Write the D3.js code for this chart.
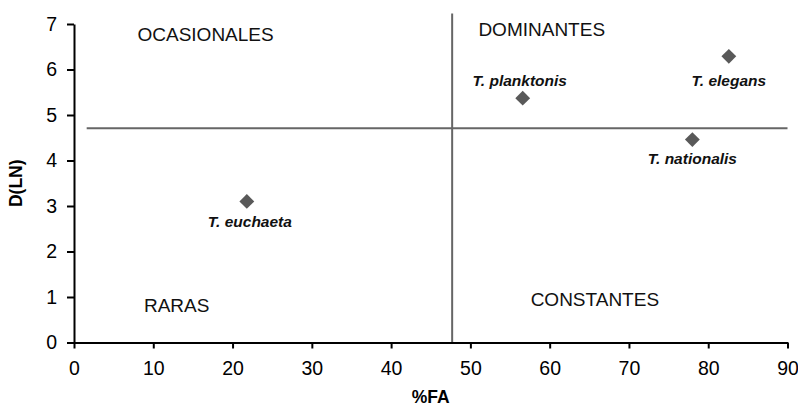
<!DOCTYPE html>
<html>
<head>
<meta charset="utf-8">
<script src="https://cdn.jsdelivr.net/npm/d3@7"></script>
<style>
  body { margin: 0; background: #fff; }
  svg text { font-family: "Liberation Sans", Arial, Helvetica, sans-serif; }
</style>
</head>
<body>
<svg id="chart" width="798" height="408"></svg>
<script>
'use strict'

// species and their values
var species = ['T. euchaeta', 'T. planktonis', 'T. elegans', 'T. nationalis']
var fa = [21.8, 56.6, 82.6, 78.0]
var dln = [3.1, 5.37, 6.29, 4.46]

// quadrant thresholds
var faCut = 47.7
var dlnCut = 4.71

// quadrant names and where they sit (data units)
var quadNames = ['OCASIONALES', 'DOMINANTES', 'RARAS', 'CONSTANTES']
var quadFa = [16.6, 59.0, 12.95, 65.7]
var quadDln = [6.77, 6.88, 0.81, 0.95]

var xTicks = [0, 10, 20, 30, 40, 50, 60, 70, 80, 90]
var yTicks = [0, 1, 2, 3, 4, 5, 6, 7]

var svg = d3.select('#chart')
  , m = {top: 24, right: 10.5, bottom: 65.5, left: 74}
  , W = 798, H = 408
  , x = d3.scaleLinear().domain([0, 90]).range([m.left, W - m.right])
  , y = d3.scaleLinear().domain([0, 7]).range([H - m.bottom, m.top])
  , fmt = d3.format('d')

// quadrant lines
svg.append('line')
  .attr('x1', x(1.6)).attr('x2', x(90))
  .attr('y1', y(dlnCut)).attr('y2', y(dlnCut))
  .attr('stroke', '#666').attr('stroke-width', 2)
svg.append('line')
  .attr('x1', x(faCut)).attr('x2', x(faCut))
  .attr('y1', y(0)).attr('y2', y(7.23))
  .attr('stroke', '#666').attr('stroke-width', 2)

// axes
var xAxis = svg.append('g')
  .attr('transform', 'translate(0,' + y(0) + ')')
  .call(d3.axisBottom(x).tickValues(xTicks).tickFormat(fmt).tickSize(6).tickSizeOuter(0).tickPadding(13))
var yAxis = svg.append('g')
  .attr('transform', 'translate(' + x(0) + ',0)')
  .call(d3.axisLeft(y).tickValues(yTicks).tickFormat(fmt).tickSize(7).tickSizeOuter(0).tickPadding(10))

;[xAxis, yAxis].forEach(function(a){
  a.attr('font-size', null).attr('font-family', null)
  a.select('.domain').attr('stroke', '#000').attr('stroke-width', 2)
  a.selectAll('.tick line').attr('stroke', '#000').attr('stroke-width', 2)
  a.selectAll('.tick text').attr('fill', '#000').style('font-size', '19.5px')
})

// axis titles
svg.append('text')
  .attr('x', (x(0) + x(90)) / 2).attr('y', 397)
  .attr('text-anchor', 'middle').attr('dominant-baseline', 'central')
  .style('font-weight', 'bold').style('font-size', '17.5px')
  .text('%FA')
svg.append('text')
  .attr('transform', 'translate(16,' + (y(0) + y(7)) / 2 + ') rotate(-90)')
  .attr('text-anchor', 'middle').attr('dominant-baseline', 'central')
  .style('font-weight', 'bold').style('font-size', '17.5px')
  .text('D(LN)')

// quadrant names
svg.selectAll('text.quad').data(quadNames).enter().append('text')
  .attr('class', 'quad')
  .attr('x', function(d, i){ return x(quadFa[i]) })
  .attr('y', function(d, i){ return y(quadDln[i]) })
  .attr('text-anchor', 'middle').attr('dominant-baseline', 'central')
  .style('font-size', '19px').attr('fill', '#111')
  .text(function(d){ return d })

// points
var pts = species.map(function(s, i){ return {name: s, fa: fa[i], dln: dln[i]} })
var labelOff = {'T. euchaeta': [3, 20.5], 'T. planktonis': [-3, -18], 'T. elegans': [0, 24], 'T. nationalis': [0, 19]}

svg.selectAll('path.pt').data(pts).enter().append('path')
  .attr('class', 'pt')
  .attr('d', d3.symbol().type(d3.symbolSquare).size(110))
  .attr('transform', function(d){ return 'translate(' + x(d.fa) + ',' + y(d.dln) + ') rotate(45)' })
  .attr('fill', '#595959')

svg.selectAll('text.sp').data(pts).enter().append('text')
  .attr('class', 'sp')
  .attr('x', function(d){ return x(d.fa) + labelOff[d.name][0] })
  .attr('y', function(d){ return y(d.dln) + labelOff[d.name][1] })
  .attr('text-anchor', 'middle').attr('dominant-baseline', 'central')
  .style('font-weight', 'bold').style('font-style', 'italic').style('font-size', '15.5px')
  .attr('fill', '#111')
  .text(function(d){ return d.name })
</script>
</body>
</html>
